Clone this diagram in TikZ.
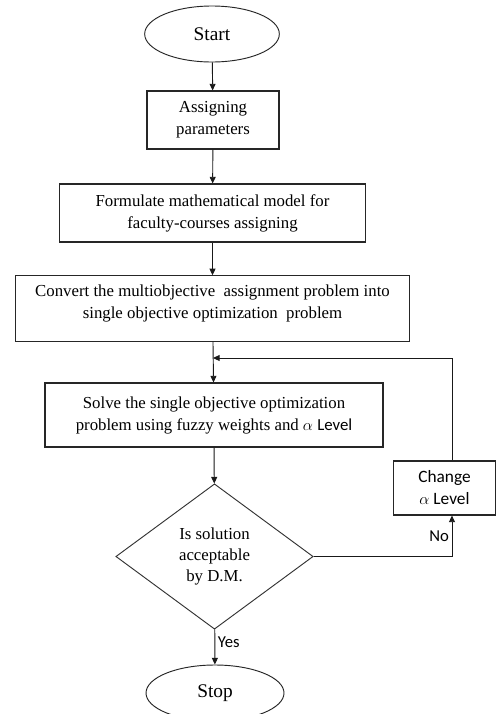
\documentclass[tikz,border=0pt]{standalone}
\usepackage{fontspec}
\setmainfont{Liberation Serif}
\newfontfamily\calibri{Carlito}
\usetikzlibrary{arrows.meta, shapes, positioning}

\begin{document}
\begin{tikzpicture}[x=0.75pt, y=-0.75pt,
  >={Triangle[length=5pt, width=4.5pt]},
  term/.style={ellipse, draw=black!85, line width=0.7pt, minimum width=101pt, minimum height=42pt, font=\fontsize{14.5}{16}\selectfont},
  proc/.style={rectangle, draw=black!85, line width=0.8pt, align=center, font=\fontsize{12.6}{16.5}\selectfont},
  decision/.style={diamond, draw=black!80, line width=0.7pt, inner sep=0pt, align=center, minimum width=148pt, minimum height=109pt, font=\fontsize{12.6}{15.8}\selectfont},
  line/.style={draw=black!90, ->, line width=0.7pt},
  lbl/.style={font=\calibri\fontsize{12.5}{14}\selectfont, inner sep=2pt}
]

\fill[white] (0,0) rectangle (497,714); % page with margins
\useasboundingbox (0,0) rectangle (497,714);

\node (start)[term] at (212, 34) {Start};
\node (assign)[proc, minimum width=99pt, minimum height=43.5pt] at (213, 120) {Assigning\\ parameters};
\node (model)[proc, minimum width=230pt, minimum height=43.5pt] at (212.5, 213) {Formulate mathematical model for\\ faculty-courses assigning};
\node (convert)[proc, minimum width=296pt, minimum height=49pt] at (212.5, 308.5) {Convert the multiobjective\ \ assignment problem into\\ single objective optimization\ \ problem\\[-7pt]};
\node (solve)[proc, minimum width=253.5pt, minimum height=48pt] at (214, 415) {Solve the single objective optimization\\ problem using fuzzy weights and $\alpha$ {\calibri Level}};
\node (decide)[decision] at (214.5, 556.5) {Is solution\\ acceptable\\ by D.M.};
\node (change)[proc, font=\calibri\fontsize{13}{16.5}\selectfont, minimum width=77pt, minimum height=40.5pt] at (444.5, 488) {Change\\ $\alpha$ Level};
\node (stop)[term, minimum width=103.5pt] at (215, 693) {Stop};

\coordinate (join) at (213, 358); % where the loop comes back

\draw[line] (start) -- (assign);
\draw[line] (assign) -- (model);
\draw[line] (model) -- (convert);
\draw[line] (convert) -- (solve);
\draw[line] (solve) -- (decide);
\draw[line] (decide) -- node[lbl, pos=0.35, right] {Yes} (stop);

% the "No" loop
\draw[line] (decide.east) -| node[lbl, pos=0.75, left] {No} ([xshift=5.6pt]change.south);
\draw[line] ([xshift=5.6pt]change.north) |- (join);
\end{tikzpicture}
\end{document}
